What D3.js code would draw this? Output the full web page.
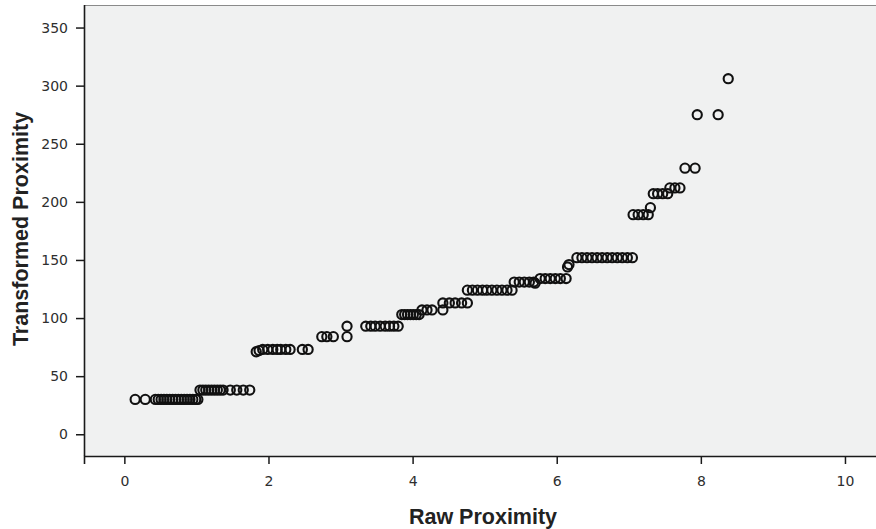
<!DOCTYPE html>
<html>
<head>
<meta charset="utf-8">
<script src="https://cdn.jsdelivr.net/npm/d3@7"></script>
<style>
  html, body { margin: 0; padding: 0; background: #ffffff; }
  svg { display: block; }
</style>
</head>
<body>
<svg id="chart" width="876" height="529"></svg>
<script>
// ---- data ----
const rawProximity = [
  0.15, 0.29, 0.43, 0.47, 0.51, 0.55, 0.59, 0.63, 0.67, 0.71, 0.75, 0.79, 0.83, 0.87, 0.91, 0.95, 0.99, 1.02,
  1.05, 1.09, 1.13, 1.17, 1.21, 1.25, 1.29, 1.33, 1.37, 1.47, 1.56, 1.65, 1.74,
  1.83, 1.87, 1.92, 1.99, 2.06, 2.12, 2.17, 2.24, 2.30, 2.47, 2.55,
  2.74, 2.81, 2.90, 3.09, 3.09,
  3.35, 3.42, 3.48, 3.55, 3.62, 3.68, 3.74, 3.80,
  3.85, 3.89, 3.93, 3.97, 4.01, 4.05, 4.09,
  4.13, 4.20, 4.27, 4.42,
  4.42, 4.51, 4.59, 4.68, 4.76,
  4.76, 4.83, 4.90, 4.97, 5.03, 5.10, 5.17, 5.24, 5.31, 5.38,
  5.41, 5.48, 5.55, 5.62, 5.68, 5.70,
  5.77, 5.84, 5.91, 5.98, 6.05, 6.13,
  6.15, 6.17,
  6.28, 6.35, 6.42, 6.49, 6.56, 6.63, 6.70, 6.77, 6.84, 6.91, 6.98, 7.05,
  7.06, 7.13, 7.20, 7.27, 7.30,
  7.34, 7.40, 7.47, 7.54,
  7.57, 7.64, 7.71,
  7.78, 7.92,
  7.95, 8.24, 8.38
];
const transformedProximity = [
  30, 30, 30, 30, 30, 30, 30, 30, 30, 30, 30, 30, 30, 30, 30, 30, 30, 30,
  38, 38, 38, 38, 38, 38, 38, 38, 38, 38, 38, 38, 38,
  71, 72, 73, 73, 73, 73, 73, 73, 73, 73, 73,
  84, 84, 84, 84, 93,
  93, 93, 93, 93, 93, 93, 93, 93,
  103, 103, 103, 103, 103, 103, 103,
  107, 107, 107, 107,
  113, 113, 113, 113, 113,
  124, 124, 124, 124, 124, 124, 124, 124, 124, 124,
  131, 131, 131, 131, 131, 130,
  134, 134, 134, 134, 134, 134,
  144, 146,
  152, 152, 152, 152, 152, 152, 152, 152, 152, 152, 152, 152,
  189, 189, 189, 189, 195,
  207, 207, 207, 207,
  212, 212, 212,
  229, 229,
  275, 275, 306
];
const xTicks = [0, 2, 4, 6, 8, 10];
const yTicks = [0, 50, 100, 150, 200, 250, 300, 350];
const xTitle = "Raw Proximity";
const yTitle = "Transformed Proximity";

// ---- layout ----
const svg = d3.select("#chart");
const plot = { left: 84, top: 5, right: 881, bottom: 456 };

const x = d3.scaleLinear().domain([-0.56, 10.5]).range([plot.left, plot.right]);
const y = d3.scaleLinear().domain([-18.7, 369.4]).range([plot.bottom, plot.top]);

// plot background
svg.append("rect")
  .attr("x", plot.left).attr("y", plot.top)
  .attr("width", plot.right - plot.left).attr("height", plot.bottom - plot.top)
  .attr("fill", "#f0f1f1");

// top frame line
svg.append("line")
  .attr("x1", plot.left).attr("x2", plot.right)
  .attr("y1", plot.top + 0.5).attr("y2", plot.top + 0.5)
  .attr("stroke", "#8a8a8a").attr("stroke-width", 1.2);

// axes
const xAxis = d3.axisBottom(x).tickValues(xTicks).tickFormat(d3.format("d")).tickSizeOuter(0).tickSize(8).tickPadding(12);
const yAxis = d3.axisLeft(y).tickValues(yTicks).tickFormat(d3.format("d")).tickSizeOuter(0).tickSize(8).tickPadding(8);

const gx = svg.append("g").attr("transform", `translate(0,${plot.bottom})`).call(xAxis);
const gy = svg.append("g").attr("transform", `translate(${plot.left},0)`).call(yAxis);

[gx, gy].forEach(g => {
  g.select(".domain").attr("stroke", "#1a1a1a").attr("stroke-width", 1.6);
  g.selectAll(".tick line").attr("stroke", "#1a1a1a").attr("stroke-width", 1.5);
  g.selectAll(".tick text")
    .attr("fill", "#2e2e2e")
    .style("font-family", "'DejaVu Sans', sans-serif")
    .style("font-size", "14px");
});
gy.select(".domain").attr("d", `M0.5,${plot.top}V${plot.bottom}`);

// points
svg.append("g")
  .selectAll("circle")
  .data(rawProximity.map((v, i) => [v, transformedProximity[i]]))
  .join("circle")
  .attr("cx", d => x(d[0]))
  .attr("cy", d => y(d[1]))
  .attr("r", 4.6)
  .attr("fill", "none")
  .attr("stroke", "#111")
  .attr("stroke-width", 2.1);

// axis titles
svg.append("text")
  .attr("x", 483).attr("y", 524)
  .attr("text-anchor", "middle")
  .style("font-family", "'Liberation Sans', Arial, sans-serif")
  .style("font-weight", "bold")
  .style("font-size", "21.5px")
  .attr("fill", "#222")
  .text(xTitle);

svg.append("text")
  .attr("transform", "translate(28,229) rotate(-90)")
  .attr("text-anchor", "middle")
  .style("font-family", "'Liberation Sans', Arial, sans-serif")
  .style("font-weight", "bold")
  .style("font-size", "21.5px")
  .attr("fill", "#222")
  .text(yTitle);
</script>
</body>
</html>
